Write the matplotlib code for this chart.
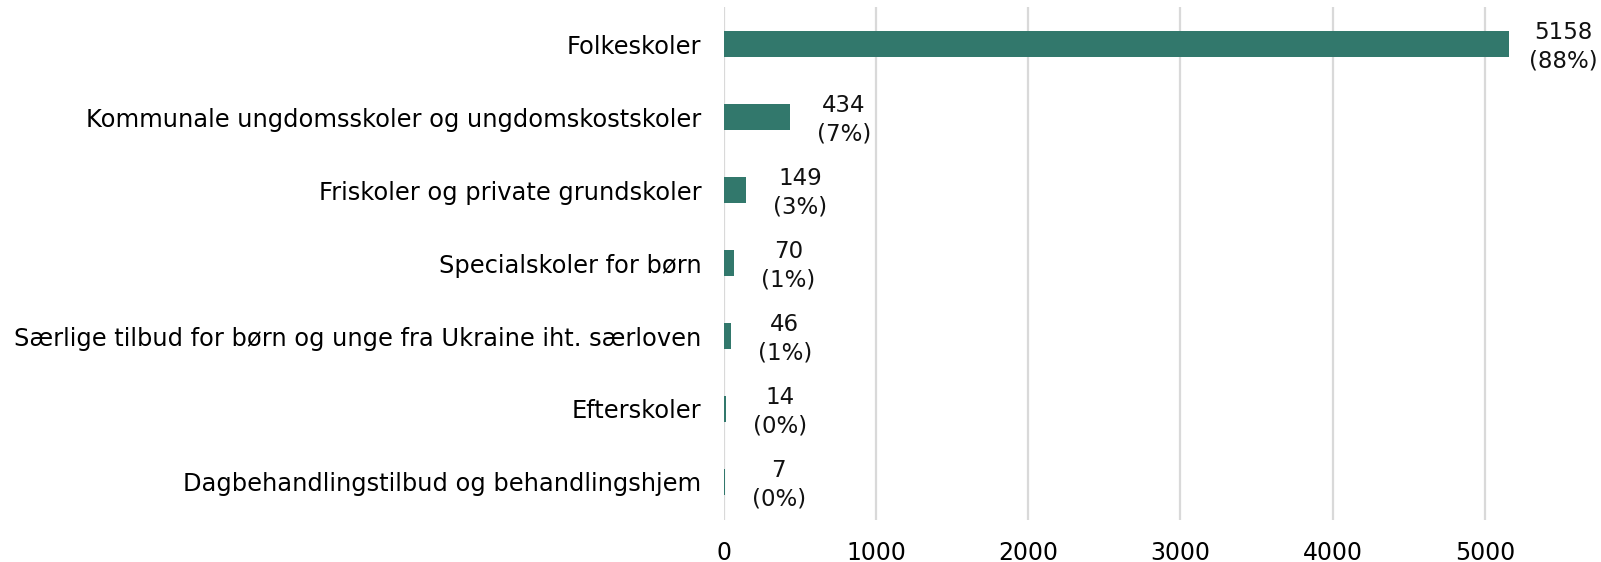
import matplotlib.pyplot as plt

# Data
categories = [
    "Folkeskoler",
    "Kommunale ungdomsskoler og ungdomskostskoler",
    "Friskoler og private grundskoler",
    "Specialskoler for børn",
    "Særlige tilbud for børn og unge fra Ukraine iht. særloven",
    "Efterskoler",
    "Dagbehandlingstilbud og behandlingshjem",
]
counts = [5158, 434, 149, 70, 46, 14, 7]
shares = ["88%", "7%", "3%", "1%", "1%", "0%", "0%"]
xticks = [0, 1000, 2000, 3000, 4000, 5000]

bar_color = "#32786c"

fig = plt.figure(figsize=(16.01, 5.62), dpi=100)
ax = fig.add_axes([0.452, 0.075, 0.523, 0.9125])

y = list(range(len(categories)))
ax.barh(y, counts, height=0.36, color=bar_color, zorder=3)

for yi, c, s in zip(y, counts, shares):
    ax.annotate(f"{c}\n({s})", xy=(c, yi), xytext=(39, -2),
                textcoords="offset points", ha="center", va="center",
                fontsize=16.5, linespacing=1.3, color="#111111")

ax.set_yticks(y)
ax.set_yticklabels(categories, fontsize=17.4)
ax.set_ylim(len(categories) - 0.48, -0.51)
ax.set_xlim(0, 5500)
ax.set_xticks(xticks)
ax.set_xticklabels([str(t) for t in xticks], fontsize=17)
ax.tick_params(length=0)
ax.tick_params(axis="y", pad=16)
ax.tick_params(axis="x", pad=15)
ax.grid(axis="x", color="#d9d9d9", linewidth=1.6, zorder=0)
for sp in ax.spines.values():
    sp.set_visible(False)

fig.savefig("out.png", dpi=100)
